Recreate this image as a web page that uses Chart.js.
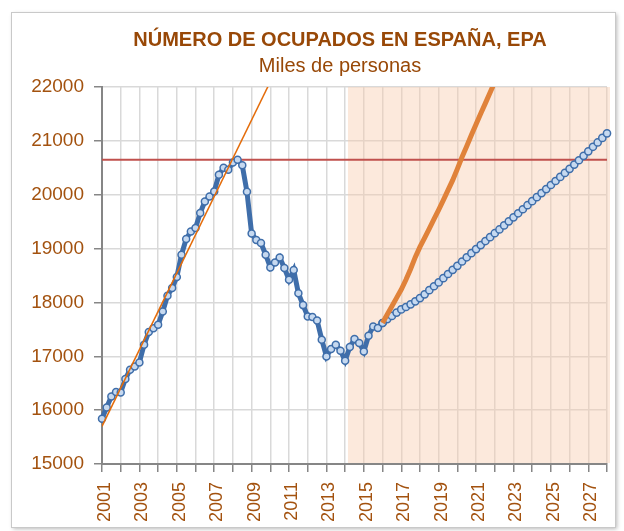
<!DOCTYPE html>
<html lang="es">
<head>
<meta charset="utf-8">
<title>Número de ocupados en España, EPA</title>
<script src="https://cdn.jsdelivr.net/npm/chart.js@4.4.0/dist/chart.umd.min.js"></script>
<style>
  html, body { margin: 0; padding: 0; background: #fff; }
</style>
</head>
<body>
<canvas id="ocupados-chart" width="624" height="531"></canvas>
<script>
// datos trimestrales, el primero es 2001T1
const primer_anio = 2001;
const ultimo_anio = 2028;
const anios_etiqueta = [2001, 2003, 2005, 2007, 2009, 2011, 2013, 2015, 2017, 2019, 2021, 2023, 2025, 2027];

// ocupados EPA (miles), 2001T1 - 2016T1
const ocupados = [
    15841, 16051, 16255, 16337, 16329, 16578, 16751, 16812,
    16886, 17215, 17451, 17520, 17586, 17833, 18125, 18268,
    18472, 18886, 19178, 19319, 19382, 19660, 19876, 19968,
    20061, 20371, 20500, 20462, 20600, 20650, 20545, 20055,
    19280, 19160, 19103, 18886, 18650, 18743, 18836, 18639,
    18420, 18600, 18170, 17950, 17741, 17729, 17666, 17308,
    16998, 17135, 17215, 17103, 16918, 17172, 17321, 17247,
    17091, 17382, 17555, 17525, 17618
];
const inicio_proyeccion = 60; // 2016T1

// ritmo actual, 2016T1 - 2028T1
const proyeccion = [
    17618, 17690, 17750, 17812, 17870, 17915, 17965, 18020, 18080, 18150,
    18228, 18300, 18372, 18450, 18528, 18605, 18680, 18760, 18838, 18915,
    18990, 19065, 19140, 19212, 19285, 19355, 19430, 19505, 19580, 19655,
    19730, 19805, 19880, 19955, 20030, 20105, 20180, 20255, 20330, 20405,
    20480, 20560, 20640, 20722, 20805, 20890, 20970, 21055, 21140
];

// ritmo 2001-2007, 2016T1 - 2022T1
const escenario_rapido = [
    17618, 17775, 17930, 18085, 18240, 18420, 18620, 18840, 19030, 19200,
    19370, 19545, 19720, 19900, 20085, 20270, 20480, 20700, 20900, 21110,
    21310, 21510, 21700, 21900, 22090
];

const tendencia_anios = [2001, 2010];
const tendencia_valores = [15700, 22100];
const maximo_anterior = 20650;
const comienzo_sombra = 2014.15;

const y_min = 15000;
const y_max = 22000;
const y_paso = 1000;

const titulo = "NÚMERO DE OCUPADOS EN ESPAÑA, EPA";
const subtitulo = "Miles de personas";

const trimestre = (i) => primer_anio + i / 4;
const label_color = "#A3520F";
const title_color = "#984807";
const font_name = "'Liberation Sans', Arial, sans-serif";

const marco_plugin = {
    id: "marco",
    beforeDraw(chart) {
        const ctx = chart.ctx;
        ctx.save();
        ctx.fillStyle = "#fff";
        ctx.fillRect(0, 0, chart.width, chart.height);
        ctx.shadowColor = "rgba(0,0,0,0.28)";
        ctx.shadowBlur = 4;
        ctx.shadowOffsetX = 2;
        ctx.shadowOffsetY = 2;
        ctx.fillRect(11, 12, 604, 515);
        ctx.shadowColor = "transparent";
        ctx.strokeStyle = "#c9c9c9";
        ctx.lineWidth = 1;
        ctx.strokeRect(11.5, 12.5, 604, 515);
        // titulo y subtitulo
        ctx.fillStyle = title_color;
        ctx.textAlign = "center";
        ctx.textBaseline = "middle";
        ctx.font = "bold 20px " + font_name;
        ctx.fillText(titulo, 340, 40);
        ctx.font = "20px " + font_name;
        ctx.fillText(subtitulo, 340, 66);
        ctx.restore();
    }
};

const sombra_plugin = {
    id: "sombra",
    beforeDatasetsDraw(chart) {
        const area = chart.chartArea;
        const x0 = chart.scales.x.getPixelForValue(comienzo_sombra);
        const ctx = chart.ctx;
        ctx.save();
        ctx.fillStyle = "rgba(248, 203, 173, 0.43)";
        ctx.fillRect(x0, area.top, area.right - x0 + 3, area.bottom - area.top - 1);
        ctx.restore();
    }
};

const historico_data = ocupados.map((v, i) => ({ x: trimestre(i), y: v }));
const proyeccion_data = proyeccion.map((v, i) => ({ x: trimestre(inicio_proyeccion + i), y: v }));
const rapido_data = escenario_rapido.map((v, i) => ({ x: trimestre(inicio_proyeccion + i), y: v }));
const tendencia_data = tendencia_anios.map((a, i) => ({ x: a, y: tendencia_valores[i] }));
const maximo_data = [{ x: primer_anio, y: maximo_anterior }, { x: ultimo_anio, y: maximo_anterior }];

const chartContainer = document.getElementById("ocupados-chart").getContext("2d");
const ocupadosChart = new Chart(chartContainer, {
    type: "line",
    data: {
        datasets: [
            {
                data: tendencia_data,
                borderColor: "#E46C0A",
                borderWidth: 1.5,
                pointRadius: 0,
                clip: 0,
                order: 1
            },
            {
                data: rapido_data,
                borderColor: "#E0823A",
                borderWidth: 5,
                pointRadius: 0,
                clip: 0,
                order: 2
            },
            {
                data: historico_data,
                borderColor: "#3F6EAA",
                borderWidth: 5,
                pointRadius: 3.5,
                pointBorderWidth: 1.5,
                pointBackgroundColor: "#C6D9F0",
                pointBorderColor: "#3F6EAA",
                clip: false,
                order: 3
            },
            {
                data: proyeccion_data,
                borderColor: "#3F6EAA",
                borderWidth: 2,
                pointRadius: 3.6,
                pointBorderWidth: 1.5,
                pointBackgroundColor: "#C6D9F0",
                pointBorderColor: "#3F6EAA",
                clip: false,
                order: 4
            },
            {
                data: maximo_data,
                borderColor: "#C0504D",
                borderWidth: 2,
                pointRadius: 0,
                order: 5
            }
        ]
    },
    options: {
        responsive: false,
        animation: false,
        devicePixelRatio: 1,
        layout: {
            padding: { left: 0, right: 17, top: 87, bottom: 0 }
        },
        plugins: {
            legend: { display: false },
            tooltip: { enabled: false },
            title: { display: false }
        },
        scales: {
            x: {
                type: "linear",
                min: primer_anio,
                max: ultimo_anio,
                afterFit: (scale) => {
                    scale.height = 67;
                    scale.paddingLeft = 0;
                    scale.paddingRight = 0;
                },
                ticks: {
                    stepSize: 1,
                    autoSkip: false,
                    minRotation: 90,
                    maxRotation: 90,
                    padding: 10,
                    labelOffset: 3,
                    color: label_color,
                    font: { family: font_name, size: 18 },
                    callback: (value) => anios_etiqueta.includes(value) ? String(value) : ""
                },
                grid: {
                    color: "#d9d9d9",
                    lineWidth: 1.5,
                    tickColor: "#868686",
                    tickLength: 8,
                    tickWidth: 1.5
                },
                border: { color: "#868686", width: 2 }
            },
            y: {
                min: y_min,
                max: y_max,
                afterFit: (scale) => { scale.width = 102; },
                ticks: {
                    stepSize: y_paso,
                    padding: 10,
                    color: label_color,
                    font: { family: font_name, size: 19 },
                    callback: (value) => String(value)
                },
                grid: {
                    color: "#d9d9d9",
                    lineWidth: 1.5,
                    tickColor: "#868686",
                    tickLength: 8,
                    tickWidth: 1.5
                },
                border: { color: "#868686", width: 2 }
            }
        }
    },
    plugins: [marco_plugin, sombra_plugin]
});
</script>
</body>
</html>
